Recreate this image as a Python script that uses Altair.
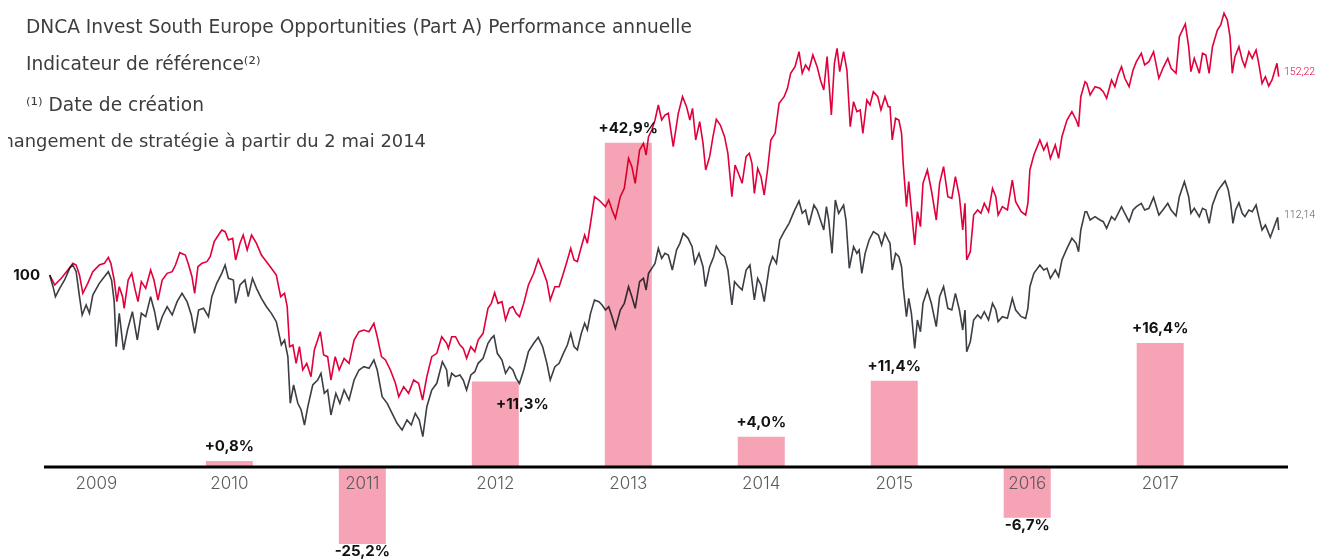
import altair as alt
import pandas as pd

# ---------------- data ----------------
bar_years = [2010, 2011, 2012, 2013, 2014, 2015, 2016, 2017]
bar_perf = [0.8, -25.2, 11.3, 42.9, 4.0, 11.4, -6.7, 16.4]
bar_labels = ["+0,8%", "-25,2%", "+11,3%", "+42,9%", "+4,0%", "+11,4%", "-6,7%", "+16,4%"]
axis_years = [2009, 2010, 2011, 2012, 2013, 2014, 2015, 2016, 2017]

fund_dates = [
    2009.149, 2009.187, 2009.236, 2009.286, 2009.323, 2009.348, 2009.373, 2009.398, 2009.435, 2009.473,
    2009.522, 2009.560, 2009.590, 2009.609, 2009.634, 2009.654, 2009.672, 2009.697, 2009.709, 2009.739,
    2009.766, 2009.789, 2009.813, 2009.838, 2009.871, 2009.908, 2009.933, 2009.963, 2009.995, 2010.032,
    2010.070, 2010.095, 2010.127, 2010.169, 2010.194, 2010.219, 2010.239, 2010.264, 2010.294, 2010.331,
    2010.356, 2010.386, 2010.418, 2010.443, 2010.468, 2010.493, 2010.525, 2010.547, 2010.580, 2010.604,
    2010.634, 2010.667, 2010.704, 2010.741, 2010.779, 2010.816, 2010.853, 2010.886, 2010.915, 2010.935,
    2010.953, 2010.978, 2011.002, 2011.027, 2011.052, 2011.082, 2011.114, 2011.139, 2011.164, 2011.184,
    2011.209, 2011.239, 2011.264, 2011.296, 2011.326, 2011.363, 2011.400, 2011.438, 2011.475, 2011.512,
    2011.550, 2011.587, 2011.612, 2011.644, 2011.674, 2011.711, 2011.749, 2011.774, 2011.811, 2011.848,
    2011.886, 2011.923, 2011.953, 2011.985, 2012.022, 2012.060, 2012.097, 2012.134, 2012.147, 2012.172,
    2012.201, 2012.234, 2012.259, 2012.284, 2012.316, 2012.346, 2012.371, 2012.408, 2012.445, 2012.470,
    2012.495, 2012.520, 2012.550, 2012.577, 2012.607, 2012.632, 2012.657, 2012.682, 2012.714, 2012.749,
    2012.789, 2012.823, 2012.856, 2012.888, 2012.913, 2012.948, 2012.980, 2013.012, 2013.042, 2013.067,
    2013.092, 2013.117, 2013.147, 2013.172, 2013.192, 2013.216, 2013.246, 2013.279, 2013.303, 2013.328,
    2013.353, 2013.378, 2013.403, 2013.440, 2013.470, 2013.502, 2013.527, 2013.552, 2013.585, 2013.614,
    2013.634, 2013.652, 2013.677, 2013.701, 2013.726, 2013.751, 2013.776, 2013.801,
    2013.838, 2013.876, 2013.908, 2013.938, 2013.963, 2013.983, 2014.007, 2014.037, 2014.062, 2014.082,
    2014.112, 2014.137, 2014.162, 2014.192, 2014.224, 2014.249, 2014.279, 2014.303, 2014.328, 2014.356,
    2014.386, 2014.410, 2014.430, 2014.448, 2014.473, 2014.498, 2014.522, 2014.547, 2014.572, 2014.604,
    2014.634, 2014.672, 2014.697, 2014.721, 2014.754, 2014.784, 2014.808, 2014.833, 2014.858, 2014.888,
    2014.920, 2014.945, 2014.970, 2014.995, 2015.027, 2015.050, 2015.070, 2015.090, 2015.119, 2015.144,
    2015.169, 2015.194, 2015.219, 2015.244, 2015.264, 2015.294, 2015.318, 2015.343, 2015.376, 2015.400,
    2015.430, 2015.455,
    2015.468, 2015.485, 2015.510, 2015.535, 2015.555, 2015.567, 2015.592, 2015.609, 2015.629, 2015.654,
    2015.674, 2015.697, 2015.716, 2015.749, 2015.779, 2015.816, 2015.841, 2015.871, 2015.903, 2015.933,
    2015.960, 2015.990, 2016.015, 2016.032, 2016.045, 2016.072, 2016.097, 2016.127, 2016.152, 2016.177,
    2016.209, 2016.239, 2016.264, 2016.281, 2016.313, 2016.351, 2016.388, 2016.413, 2016.455, 2016.488,
    2016.505, 2016.520, 2016.550, 2016.595, 2016.624, 2016.649, 2016.674, 2016.711, 2016.736, 2016.761,
    2016.799, 2016.836, 2016.868, 2016.886, 2016.903, 2016.935,
    2016.948, 2016.973, 2017.010, 2017.047, 2017.072, 2017.097, 2017.134, 2017.159, 2017.184, 2017.209,
    2017.234, 2017.266, 2017.296, 2017.321, 2017.358, 2017.383, 2017.415, 2017.450, 2017.490, 2017.520,
    2017.557, 2017.582, 2017.619, 2017.644, 2017.689, 2017.714, 2017.731, 2017.756, 2017.794, 2017.818,
    2017.843, 2017.868, 2017.893, 2017.930, 2017.955, 2017.980, 2018.005, 2018.025, 2018.042, 2018.062,
    2018.092, 2018.117, 2018.137, 2018.167, 2018.192, 2018.221, 2018.241, 2018.266, 2018.291, 2018.316,
    2018.341, 2018.378, 2018.391,
]
fund_values = [
    100.0, 97.5, 99.17, 101.25, 102.92, 102.5, 100.0, 95.42, 97.92, 100.83,
    102.5, 102.92, 104.42, 102.92, 98.75, 93.33, 97.08, 94.58, 91.67, 98.75,
    100.42, 96.67, 93.33, 98.33, 96.67, 101.25, 98.75, 93.75, 98.75, 100.42,
    100.83, 102.5, 105.58, 105.0, 102.5, 99.58, 95.42, 102.08, 102.92, 103.33,
    104.58, 108.33, 110.0, 111.25, 110.83, 108.75, 109.17, 103.75, 107.92, 110.0,
    106.25, 110.0, 107.92, 105.0, 103.33, 101.67, 100.0, 94.58, 95.42, 92.08,
    82.08, 82.5, 77.92, 82.08, 76.25, 77.92, 74.58, 81.25, 83.75, 85.83,
    80.0, 79.58, 73.75, 79.58, 76.25, 79.17, 77.92, 83.75, 85.83, 86.25,
    85.83, 87.92, 84.58, 79.58, 78.75, 76.25, 72.92, 69.58, 72.08, 70.42,
    73.75, 72.92, 68.75, 74.58, 79.58, 80.42, 84.58, 82.92, 81.67, 84.58,
    84.58, 82.5, 81.67, 79.17, 82.08, 80.83, 83.75, 85.42, 91.67, 92.92,
    95.58, 92.92, 93.33, 88.75, 91.67, 92.08, 90.42, 89.58, 92.92, 97.5,
    100.42, 103.92, 101.25, 98.33, 93.75, 97.08, 97.08, 100.42, 103.75, 106.67,
    103.75, 103.33, 107.08, 110.0, 107.92, 112.92, 119.58, 118.75, 117.92, 117.08,
    118.75, 116.25, 114.17, 119.58, 121.67, 129.17, 127.08, 122.92, 131.25, 132.92,
    130.0, 134.58, 136.25, 138.75, 142.5, 138.75, 140.0, 140.42,
    132.08, 140.42, 144.58, 142.08, 138.75, 141.67, 133.75, 138.33, 132.92, 126.25,
    129.58, 134.58, 138.92, 137.5, 134.58, 130.42, 119.58, 127.5, 125.42, 122.92,
    129.58, 130.42, 127.92, 120.42, 126.67, 124.58, 120.0, 126.25, 133.75, 135.42,
    142.92, 144.58, 146.67, 150.42, 152.08, 155.83, 150.42, 152.5, 151.25, 155.0,
    152.08, 148.75, 146.25, 154.58, 140.0, 152.92, 156.67, 150.83, 155.83, 151.25,
    137.08, 143.33, 140.83, 141.25, 135.42, 143.75, 142.5, 145.83, 144.58, 141.25,
    144.58, 142.08,
    142.08, 133.75, 139.17, 138.75, 135.42, 127.92, 117.08, 123.33, 116.25, 107.5,
    115.83, 112.08, 122.92, 126.25, 121.25, 113.75, 122.92, 127.08, 119.58, 119.17,
    124.58, 119.58, 111.25, 117.92, 103.75, 105.83, 115.0, 116.25, 115.42, 117.92,
    115.83, 121.67, 119.58, 115.0, 117.08, 116.25, 123.75, 118.33, 115.83, 115.0,
    117.92, 126.25, 130.0, 133.75, 131.25, 132.92, 129.17, 132.5, 129.17, 134.58,
    138.75, 140.83, 138.75, 137.08, 144.58, 148.33,
    147.92, 145.0, 147.08, 146.67, 145.83, 144.17, 148.75, 147.08, 150.0, 152.08,
    149.17, 147.08, 151.25, 153.33, 155.42, 152.5, 153.33, 155.83, 149.17, 151.67,
    154.17, 151.67, 150.42, 159.58, 162.75, 157.08, 150.83, 154.17, 150.42, 155.42,
    155.0, 150.42, 157.08, 161.25, 162.5, 165.42, 163.75, 159.58, 150.42, 154.58,
    157.08, 153.75, 152.08, 155.83, 154.17, 156.25, 152.92, 147.92, 149.58, 147.25,
    148.75, 152.92, 149.58,
]

index_dates = [
    2009.149, 2009.174, 2009.192, 2009.224, 2009.261, 2009.299, 2009.323, 2009.348, 2009.373, 2009.393,
    2009.423, 2009.448, 2009.473, 2009.522, 2009.560, 2009.590, 2009.614, 2009.634, 2009.649, 2009.672,
    2009.704, 2009.734, 2009.771, 2009.808, 2009.838, 2009.871, 2009.908, 2009.938, 2009.963, 2009.995,
    2010.032, 2010.070, 2010.107, 2010.144, 2010.182, 2010.214, 2010.239, 2010.269, 2010.306, 2010.343,
    2010.368, 2010.405, 2010.443, 2010.468, 2010.493, 2010.530, 2010.547, 2010.580, 2010.617, 2010.642,
    2010.674, 2010.704, 2010.741, 2010.779, 2010.816, 2010.853, 2010.891, 2010.915, 2010.940, 2010.958,
    2010.983, 2011.015, 2011.040, 2011.065, 2011.090, 2011.127, 2011.164, 2011.189, 2011.214, 2011.239,
    2011.264, 2011.301, 2011.331, 2011.363, 2011.400, 2011.438, 2011.475, 2011.512, 2011.550, 2011.587,
    2011.612, 2011.649, 2011.687, 2011.724, 2011.761, 2011.799, 2011.836, 2011.868, 2011.898, 2011.928,
    2011.955, 2011.985, 2012.022, 2012.060, 2012.102, 2012.134, 2012.147, 2012.172,
    2012.201, 2012.234, 2012.259, 2012.284, 2012.316, 2012.346, 2012.371, 2012.408, 2012.445, 2012.470,
    2012.490, 2012.515, 2012.550, 2012.577, 2012.607, 2012.632, 2012.657, 2012.682, 2012.714, 2012.749,
    2012.789, 2012.823, 2012.856, 2012.888, 2012.913, 2012.948, 2012.980, 2013.012, 2013.042, 2013.067,
    2013.092, 2013.117, 2013.147, 2013.172, 2013.192, 2013.216, 2013.246, 2013.279, 2013.303, 2013.328,
    2013.353, 2013.378, 2013.403, 2013.440, 2013.470, 2013.502, 2013.527, 2013.552, 2013.585, 2013.614,
    2013.634, 2013.652, 2013.677, 2013.701, 2013.726, 2013.751, 2013.776, 2013.801, 2013.831, 2013.863,
    2013.888, 2013.913, 2013.950, 2013.980, 2014.000, 2014.032, 2014.062, 2014.080, 2014.112, 2014.142,
    2014.162, 2014.194, 2014.224, 2014.249, 2014.279, 2014.299, 2014.331, 2014.356, 2014.386, 2014.415,
    2014.448, 2014.473, 2014.498, 2014.522, 2014.560, 2014.585, 2014.614, 2014.639, 2014.672, 2014.709,
    2014.746, 2014.784, 2014.808, 2014.833, 2014.858, 2014.896, 2014.920, 2014.945, 2014.970, 2014.990,
    2015.007, 2015.032, 2015.057, 2015.082, 2015.119, 2015.137, 2015.162, 2015.194, 2015.219, 2015.236,
    2015.256, 2015.281, 2015.311, 2015.343, 2015.381, 2015.405, 2015.430, 2015.455,
    2015.468, 2015.485, 2015.510, 2015.535, 2015.555, 2015.567, 2015.592, 2015.609, 2015.629, 2015.654,
    2015.674, 2015.697, 2015.716, 2015.749, 2015.779, 2015.816, 2015.841, 2015.871, 2015.903, 2015.933,
    2015.960, 2015.990, 2016.015, 2016.032, 2016.045, 2016.072, 2016.097, 2016.127, 2016.152, 2016.177,
    2016.209, 2016.239, 2016.264, 2016.281, 2016.313, 2016.351, 2016.388, 2016.413, 2016.455, 2016.488,
    2016.505, 2016.520, 2016.550, 2016.595, 2016.624, 2016.649, 2016.674, 2016.711, 2016.736, 2016.761,
    2016.799, 2016.836, 2016.868, 2016.886, 2016.903, 2016.935,
    2016.948, 2016.973, 2017.010, 2017.047, 2017.072, 2017.097, 2017.134, 2017.159, 2017.184, 2017.209,
    2017.234, 2017.266, 2017.296, 2017.321, 2017.358, 2017.383, 2017.415, 2017.450, 2017.490, 2017.520,
    2017.557, 2017.582, 2017.619, 2017.644, 2017.682, 2017.714, 2017.731, 2017.756, 2017.794, 2017.818,
    2017.843, 2017.868, 2017.893, 2017.930, 2017.955, 2017.988, 2018.012, 2018.030, 2018.047, 2018.067,
    2018.092, 2018.117, 2018.137, 2018.167, 2018.192, 2018.221, 2018.241, 2018.266, 2018.291, 2018.328,
    2018.353, 2018.383, 2018.391,
]
index_values = [
    100.0, 97.08, 94.58, 96.67, 98.75, 101.67, 102.5, 100.83, 94.58, 90.0,
    92.5, 90.42, 95.0, 97.92, 99.58, 100.83, 98.75, 93.33, 82.08, 90.42,
    81.25, 86.25, 90.83, 83.75, 90.42, 89.58, 94.58, 90.83, 86.25, 89.58,
    92.08, 90.0, 93.33, 95.42, 93.33, 90.0, 85.42, 91.25, 91.67, 89.58,
    94.58, 97.92, 100.42, 102.5, 99.17, 98.75, 92.92, 97.5, 98.75, 94.58,
    99.17, 96.67, 94.17, 92.08, 90.42, 88.33, 82.5, 83.75, 79.58, 67.92,
    72.5, 67.92, 66.25, 62.5, 67.08, 72.5, 73.75, 75.42, 70.42, 71.25,
    65.0, 70.42, 67.92, 71.25, 68.75, 73.75, 76.25, 77.08, 76.67, 78.75,
    76.25, 69.58, 67.92, 65.42, 62.92, 61.25, 63.75, 62.5, 65.42, 63.75,
    59.58, 67.08, 71.25, 72.92, 78.33, 76.25, 72.08, 75.42,
    74.58, 75.0, 73.75, 71.25, 75.0, 75.83, 77.92, 79.17, 82.92, 84.17,
    84.83, 80.42, 78.75, 75.42, 77.08, 76.25, 74.17, 72.92, 76.25, 80.83,
    82.92, 84.42, 82.08, 77.92, 73.75, 77.08, 77.92, 80.42, 82.5, 85.42,
    82.08, 81.25, 85.42, 87.92, 86.25, 90.42, 93.75, 93.33, 92.5, 91.25,
    92.08, 89.58, 86.67, 91.25, 92.92, 97.08, 94.58, 91.67, 98.33, 99.17,
    96.25, 100.42, 101.67, 102.92, 106.67, 104.17, 105.42, 105.0, 101.25, 106.25,
    107.92, 110.42, 109.17, 107.08, 102.92, 105.42, 102.08, 97.08, 102.08, 104.58,
    107.25, 105.42, 104.58, 101.25, 92.5, 98.33, 97.08, 96.25, 101.25, 102.5,
    93.75, 99.17, 97.5, 93.33, 102.08, 104.58, 102.92, 108.75, 110.83, 112.92,
    115.83, 118.5, 115.42, 116.25, 112.5, 117.5, 116.25, 113.75, 111.25, 117.08,
    113.75, 105.42, 118.75, 115.42, 117.5, 113.75, 101.67, 107.08, 105.42, 106.25,
    100.42, 105.42, 108.75, 110.83, 110.0, 107.5, 110.42, 108.75,
    107.92, 101.25, 105.42, 104.58, 102.08, 97.08, 89.58, 94.17, 90.42, 81.67,
    88.75, 85.83, 92.92, 96.25, 92.92, 87.08, 94.58, 97.08, 91.67, 91.25,
    95.42, 91.25, 86.25, 91.25, 80.83, 83.33, 88.75, 90.0, 89.17, 90.83,
    88.75, 92.92, 91.25, 88.33, 89.58, 89.17, 94.17, 91.25, 89.58, 89.17,
    91.67, 97.08, 100.42, 102.5, 101.25, 101.67, 99.17, 101.25, 99.58, 103.75,
    106.67, 109.17, 107.92, 105.83, 111.25, 115.83,
    115.83, 113.75, 114.58, 113.75, 113.33, 111.67, 114.58, 113.75, 115.42, 117.08,
    115.42, 113.33, 116.25, 117.08, 117.92, 116.25, 116.67, 119.42, 115.0, 116.25,
    117.92, 116.25, 114.75, 119.58, 123.33, 119.58, 115.42, 116.67, 114.58, 116.67,
    116.25, 112.92, 117.5, 120.83, 122.08, 123.5, 121.25, 117.92, 112.92, 116.25,
    118.08, 115.42, 114.58, 116.25, 115.83, 117.5, 114.58, 111.25, 112.5, 109.42,
    111.67, 114.42, 111.25,
]

legend_fund = "DNCA Invest South Europe Opportunities (Part A) Performance annuelle"
legend_index = "Indicateur de référence⁽²⁾"
legend_note = "⁽¹⁾ Date de création"
legend_strategy = "Changement de stratégie à partir du 2 mai 2014"
end_fund_label = "152,22"
end_index_label = "112,14"
base_label = "100"

# ---------------- frames ----------------
fund_df = pd.DataFrame({"t": fund_dates, "v": fund_values})
index_df = pd.DataFrame({"t": index_dates, "v": index_values})
bars_df = pd.DataFrame({"year": bar_years, "perf": bar_perf, "label": bar_labels})
years_df = pd.DataFrame({"year": axis_years, "label": [str(y) for y in axis_years]})

W, H = 1308, 552
RED = "#E2003C"
GREY = "#3B3E43"
PINK = "#F5A3B5"
FONT = "Inter"
LEGEND_FONT = "DejaVu Sans"

x_scale = alt.Scale(domain=[2008.873, 2018.634], nice=False, zero=False)
y_line = alt.Scale(domain=[28.75, 166.75], nice=False, zero=False)
y_bar = alt.Scale(domain=[-10.185, 60.714], range=[536, 0], nice=False, zero=False, clamp=True)

X_mid = alt.X("xc:Q", scale=x_scale, axis=None)

bars = (
    alt.Chart(bars_df)
    .transform_calculate(xc="datum.year + 0.5")
    .mark_bar(width=47, color=PINK)
    .encode(x=X_mid, y=alt.Y("perf:Q", scale=y_bar, axis=None), y2=alt.Y2Datum(0))
)

fund_line = (
    alt.Chart(fund_df)
    .mark_line(color=RED, strokeWidth=1.6, blend="multiply")
    .encode(x=alt.X("t:Q", scale=x_scale, axis=None), y=alt.Y("v:Q", scale=y_line, axis=None))
)
index_line = (
    alt.Chart(index_df)
    .mark_line(color=GREY, strokeWidth=1.6, blend="multiply")
    .encode(x=alt.X("t:Q", scale=x_scale, axis=None), y=alt.Y("v:Q", scale=y_line, axis=None))
)

baseline = (
    alt.Chart(pd.DataFrame({"z": [0]}))
    .mark_rule(color="#000000", strokeWidth=3)
    .encode(x=alt.value(36), x2=alt.value(1280), y=alt.Y("z:Q", scale=y_bar, axis=None))
)

year_text = (
    alt.Chart(years_df)
    .transform_calculate(xc="datum.year + 0.5")
    .mark_text(font=FONT, fontSize=17, fontWeight=300, color="#5b5b5b", baseline="middle")
    .encode(x=X_mid, y=alt.value(476), text="label:N")
)

def bar_label(filter_expr, dy, dx=0):
    return (
        alt.Chart(bars_df)
        .transform_filter(filter_expr)
        .transform_calculate(xc="datum.year + 0.5")
        .mark_text(font=FONT, fontSize=15, fontWeight="bold", color="#111111",
                   baseline="middle", dy=dy, dx=dx)
        .encode(x=X_mid, y=alt.Y("perf:Q", scale=y_bar, axis=None), text="label:N")
    )

pos_labels = bar_label("datum.perf > 0 && datum.year != 2012", -15)
neg_labels = bar_label("datum.perf < 0", 7)
special_label = bar_label("datum.year == 2012", 22, 27)

base_text = (
    alt.Chart(pd.DataFrame({"v": [100], "label": [base_label]}))
    .mark_text(font=FONT, fontSize=15, fontWeight="bold", color="#111111", align="right", baseline="middle")
    .encode(x=alt.value(32), y=alt.Y("v:Q", scale=y_line, axis=None), text="label:N")
)

def note(text, x, y, align="left", size=18.6, color="#3d3d3d", font=LEGEND_FONT, weight="normal"):
    return (
        alt.Chart(pd.DataFrame({"label": [text]}))
        .mark_text(font=font, fontSize=size, fontWeight=weight, color=color, align=align, baseline="middle")
        .encode(x=alt.value(x), y=alt.value(y), text="label:N")
    )

legend1 = note(legend_fund, 18, 19)
legend2 = note(legend_index, 18, 56)
legend3 = note(legend_note, 18, 97)
legend4 = note(legend_strategy, 418, 134, align="right", size=17.9)
end1 = note(end_fund_label, 1276, 64, size=10.5, color=RED, font="Roboto", weight=300)
end2 = note(end_index_label, 1276, 207, size=10.5, color="#555a60", font="Roboto", weight=300)

chart = (
    alt.layer(
        bars, fund_line, index_line, baseline, year_text,
        pos_labels, neg_labels, special_label, base_text,
        legend1, legend2, legend3, legend4, end1, end2,
    )
    .resolve_scale(y="independent")
    .properties(width=W, height=H, padding=0, autosize=alt.AutoSizeParams(type="none"))
    .configure_view(strokeWidth=0)
)

chart.save("out.html", embed_options={"renderer": "svg", "actions": False})
